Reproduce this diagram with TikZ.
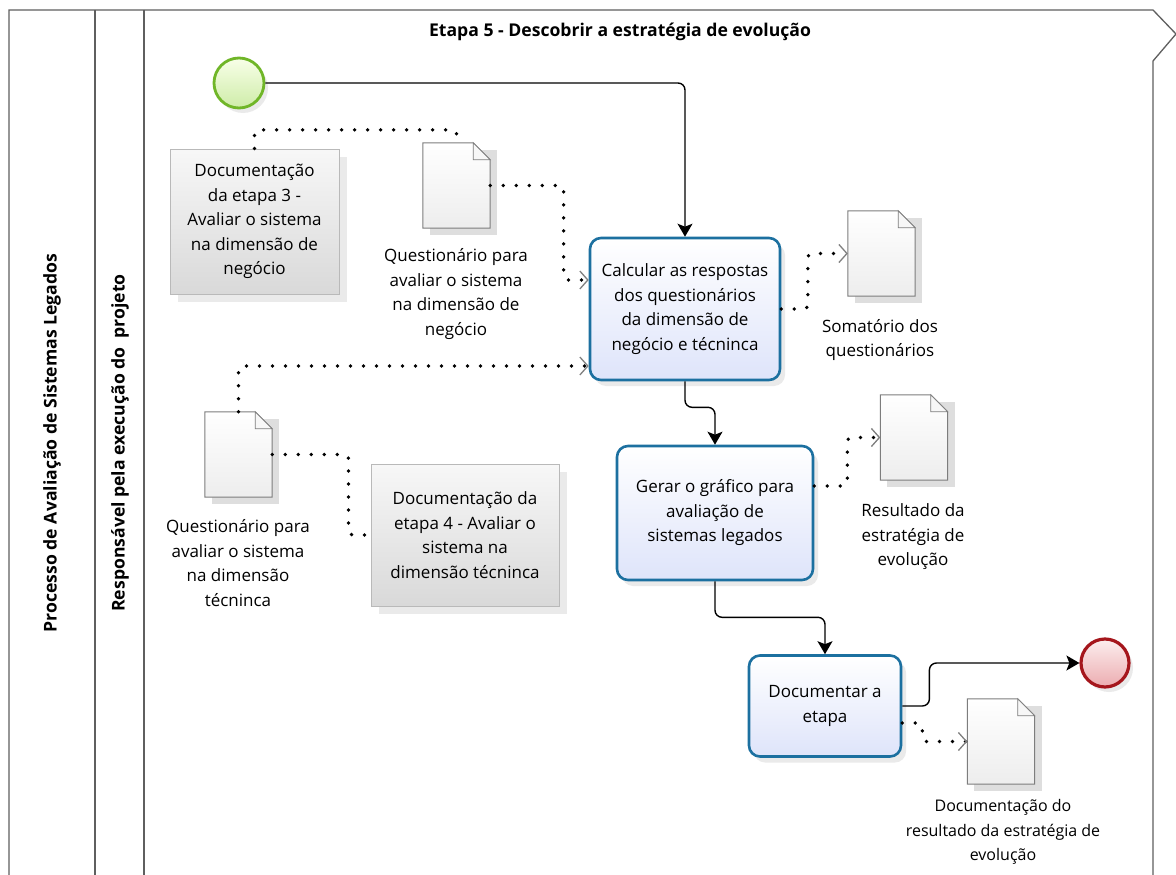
\documentclass[tikz,border=0pt]{standalone}
\usepackage{fontspec}
\setmainfont{Open Sans}
\usetikzlibrary{arrows.meta,shadows,calc}

\definecolor{taskblue}{RGB}{28,112,160}
\definecolor{taskfill}{RGB}{222,228,250}
\definecolor{startgreen}{RGB}{112,182,40}
\definecolor{startfill}{RGB}{206,236,168}
\definecolor{endred}{RGB}{165,22,28}
\definecolor{endfill}{RGB}{236,172,176}
\definecolor{laneline}{RGB}{95,95,95}
\definecolor{docedge}{RGB}{125,125,125}

\newcommand\txt{\fontsize{17}{24.5}\selectfont}
\newcommand\hdr{\bfseries\fontsize{17.6}{20}\selectfont}

% page with a folded corner drawn around a named node
\newcommand\docicon[1]{%
  \path[fill=black,opacity=0.13]
    ($(#1.north west)+(7,7)$) rectangle ($(#1.south east)+(7,7)$);
  \path[draw=docedge,line width=1pt,top color=white,bottom color=gray!14]
    (#1.north west) -- ($(#1.north east)+(-17,0)$) -- ($(#1.north east)+(0,17)$)
    -- (#1.south east) -- (#1.south west) -- cycle;
  \path[draw=docedge,line width=0.8pt,fill=gray!6]
    ($(#1.north east)+(-17,0)$) -- ($(#1.north east)+(-17,17)$) -- ($(#1.north east)+(0,17)$) -- cycle;
}

\begin{document}
\begin{tikzpicture}[x=1pt,y=-1pt,
  lane/.style={draw=laneline,line width=1.3pt},
  task/.style={draw=taskblue,line width=2.6pt,rounded corners=11pt,
    top color=white,bottom color=taskfill,align=center,font=\txt,inner sep=3pt,
    drop shadow={opacity=0.16,shadow xshift=5pt,shadow yshift=-6pt}},
  artbox/.style={draw=gray!55,line width=0.9pt,top color=gray!6,bottom color=gray!30,
    align=center,font=\txt,inner sep=3pt,
    drop shadow={opacity=0.16,shadow xshift=8pt,shadow yshift=-8pt}},
  docbody/.style={minimum width=67pt,minimum height=85pt,inner sep=0pt},
  doclabel/.style={align=center,font=\txt,inner sep=0pt},
  startev/.style={circle,minimum size=50pt,inner sep=0pt,draw=startgreen,line width=2.8pt,
    top color={rgb,255:red,248;green,255;blue,232},bottom color=startfill,
    drop shadow={opacity=0.16,shadow xshift=4pt,shadow yshift=-5pt}},
  endev/.style={circle,minimum size=48pt,inner sep=0pt,draw=endred,line width=3.2pt,
    top color={rgb,255:red,252;green,238;blue,238},bottom color=endfill,
    drop shadow={opacity=0.16,shadow xshift=4pt,shadow yshift=-5pt}},
  flow/.style={draw=black,line width=1.4pt,rounded corners=7pt,
    -{Stealth[length=13pt,width=15pt,inset=3pt]}},
  assoc/.style={draw=black,line width=3.8pt,line cap=round,rounded corners=4pt,
    dash pattern=on 0pt off 13pt},
  assocto/.style={assoc,
    -{Straight Barb[length=8pt,width=18pt,line width=1.3pt,color=gray,line cap=butt]}}
]
\useasboundingbox (0,0) rectangle (1176,875);
\fill[white] (0,0) rectangle (1176,875);

% pool and lane frame
\draw[lane] (9,875) -- (9,10) -- (1153,10) -- (1176,34) -- (1153,61) -- (1153,875);
\draw[lane] (95,10) -- (95,875);
\draw[lane] (144,10) -- (144,875);

\node[rotate=90,font=\hdr] (pool) at (52,443)
  {Processo de Avaliação de Sistemas Legados};
\node[rotate=90,font=\hdr] (lane) at (120,443)
  {Responsável pela execução do\ \ projeto};
\node[font=\hdr] (title) at (620,32)
  {Etapa 5 - Descobrir a estratégia de evolução};

% events
\node[startev] (start) at (239,83) {};
\node[endev] (end) at (1105,663) {};

% tasks
\node[task,minimum width=190pt,minimum height=142pt] (t1) at (685,309)
  {Calcular as respostas\\dos questionários\\da dimensão de\\negócio e técninca};
\node[task,minimum width=196pt,minimum height=134pt] (t2) at (715,513)
  {Gerar o gráfico para\\avaliação de\\sistemas legados};
\node[task,minimum width=152pt,minimum height=101pt] (t3) at (825,706)
  {Documentar a\\etapa};

% documentation boxes
\node[artbox,minimum width=169pt,minimum height=145pt] (boxA) at (254.5,221.5)
  {Documentação\\da etapa 3 -\\Avaliar o sistema\\na dimensão de\\negócio};
\node[artbox,minimum width=188pt,minimum height=142pt] (boxB) at (465,535)
  {Documentação da\\etapa 4 - Avaliar o\\sistema na\\dimensão técninca};

% data objects
\node[docbody] (d1) at (456.5,185.5) {};
\node[docbody] (d2) at (881.5,253.5) {};
\node[docbody] (d3) at (238.5,454.5) {};
\node[docbody] (d4) at (914,437.5) {};
\node[docbody] (d5) at (1001,741.5) {};
\docicon{d1}\docicon{d2}\docicon{d3}\docicon{d4}\docicon{d5}

\node[doclabel] (l1) at (456,294)
  {Questionário para\\avaliar o sistema\\na dimensão de\\negócio};
\node[doclabel] (l2) at (880,340) {Somatório dos\\questionários};
\node[doclabel] (l3) at (238,563)
  {Questionário para\\avaliar o sistema\\na dimensão\\técninca};
\node[doclabel] (l4) at (913,537) {Resultado da\\estratégia de\\evolução};
\node[doclabel,font=\fontsize{16}{24.5}\selectfont] (l5) at (1003,832)
  {Documentação do\\resultado da estratégia de\\evolução};

% sequence flows
\draw[flow] (start.east) -| (t1.north);
\draw[flow] (t1.south) -- ++(0,26) -| (t2.north);
\draw[flow] (t2.south) -- ++(0,36) -| (t3.north);
\draw[flow] (t3.east) -| ([xshift=-150pt]end.west) -- (end.west);

% associations
\draw[assoc] (boxA.north) |- ([yshift=13pt]d1.north) -- (d1.north);
\draw[assocto] (d1.east) -| ([xshift=-25pt,yshift=29pt]t1.west) -- ([yshift=29pt]t1.west);
\draw[assocto] (d3.north) |- ([yshift=-57pt]t1.west);
\draw[assoc] (d3.east) -| ([xshift=-22pt]boxB.west) -- (boxB.west);
\draw[assocto] (t1.east) -| ([xshift=-40pt]d2.west) -- (d2.west);
\draw[assocto] ([yshift=27pt]t2.east) -| ([xshift=-33pt]d4.west) -- (d4.west);
\draw[assocto] ([yshift=-17pt]t3.east) -| ([xshift=-45pt]d5.west) -- (d5.west);
\end{tikzpicture}
\end{document}
